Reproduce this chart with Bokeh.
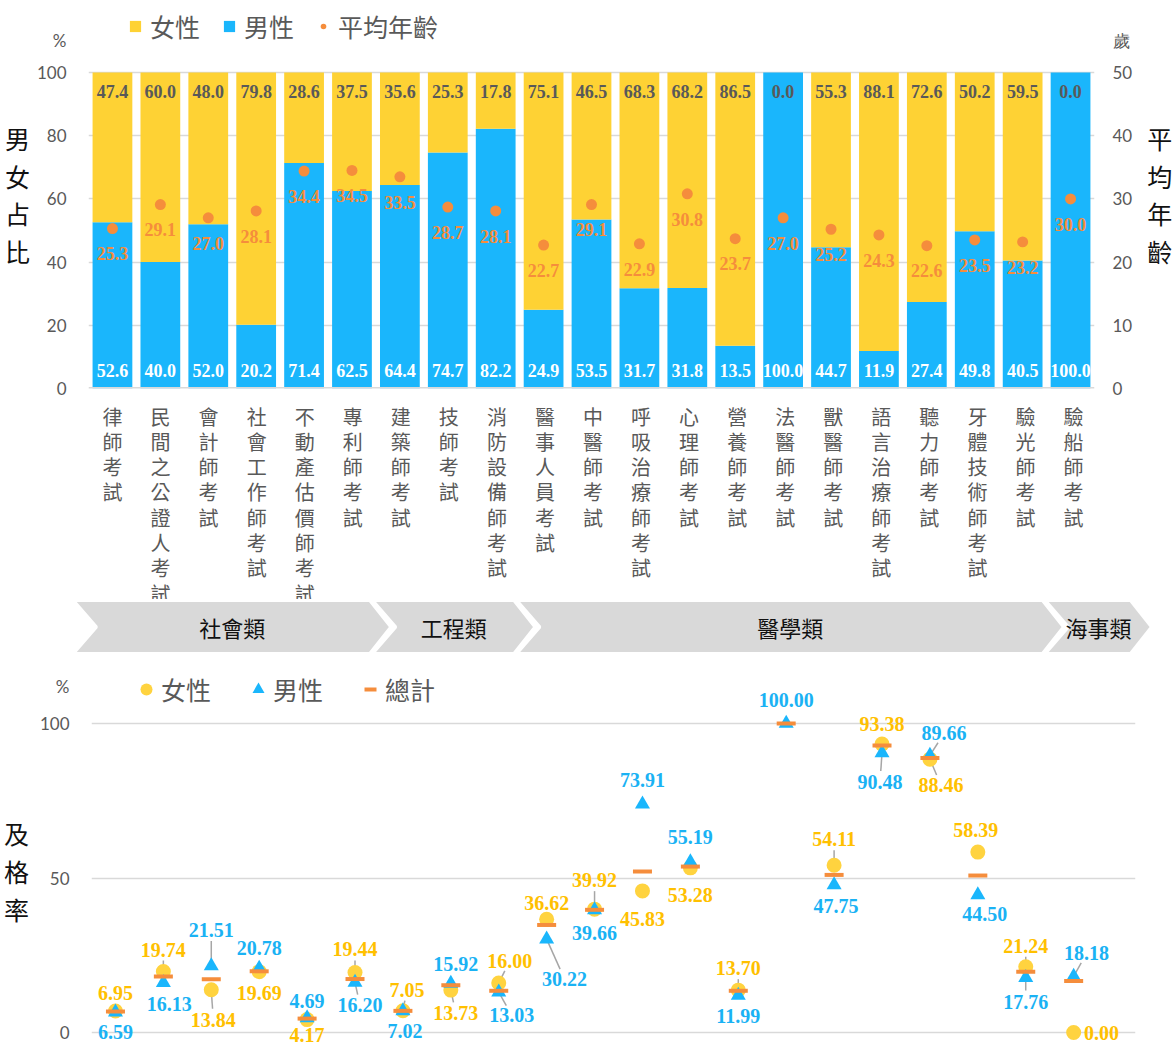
import math
from bokeh.plotting import figure
from bokeh.models import (Range1d, LinearAxis, Legend, LegendItem, Span,
                          FixedTicker, ColumnDataSource)
from bokeh.embed import file_html
from bokeh.resources import INLINE
from bokeh.core.properties import value

# ---------------- data ----------------
categories = ["律師考試", "民間之公證人考試", "會計師考試", "社會工作師考試", "不動產估價師考試",
              "專利師考試", "建築師考試", "技師考試", "消防設備師考試", "醫事人員考試",
              "中醫師考試", "呼吸治療師考試", "心理師考試", "營養師考試", "法醫師考試",
              "獸醫師考試", "語言治療師考試", "聽力師考試", "牙體技術師考試", "驗光師考試",
              "驗船師考試"]
group_names = ["社會類", "工程類", "醫學類", "海事類"]
group_sizes = [6, 3, 11, 1]
female_share = [47.4, 60.0, 48.0, 79.8, 28.6, 37.5, 35.6, 25.3, 17.8, 75.1, 46.5,
                68.3, 68.2, 86.5, 0.0, 55.3, 88.1, 72.6, 50.2, 59.5, 0.0]
male_share = [52.6, 40.0, 52.0, 20.2, 71.4, 62.5, 64.4, 74.7, 82.2, 24.9, 53.5,
              31.7, 31.8, 13.5, 100.0, 44.7, 11.9, 27.4, 49.8, 40.5, 100.0]
avg_age = [25.3, 29.1, 27.0, 28.1, 34.4, 34.5, 33.5, 28.7, 28.1, 22.7, 29.1,
           22.9, 30.8, 23.7, 27.0, 25.2, 24.3, 22.6, 23.5, 23.2, 30.0]
female_pass = [6.95, 19.74, 13.84, 19.69, 4.17, 19.44, 7.05, 13.73, 16.00, 36.62, 39.92,
               45.83, 53.28, 13.70, None, 54.11, 93.38, 88.46, 58.39, 21.24, 0.00]
male_pass = [6.59, 16.13, 21.51, 20.78, 4.69, 16.20, 7.02, 15.92, 13.03, 30.22, 39.66,
             73.91, 55.19, 11.99, 100.00, 47.75, 90.48, 89.66, 44.50, 17.76, 18.18]
total_pass = [6.8, 18.1, 17.2, 19.8, 4.5, 17.3, 7.0, 15.3, 13.5, 34.8, 39.7,
              52.1, 53.7, 13.5, 100.0, 51.0, 92.9, 88.8, 50.8, 19.7, 16.7]
share_ticks = [0, 20, 40, 60, 80, 100]
age_ticks = [0, 10, 20, 30, 40, 50]
pass_ticks = [0, 50, 100]

# label placement (screen px: dy up-positive, dx right-positive) and leader flags
female_lab_dy = [18, 22, -30, -21, -15, 23, 21, -23, 22, 16, 29, -28, -27, 22, 0, 26, 20, -26, 22, 21, 0]
female_lab_dx = [0, 0, 2, 0, 0, 0, 4, 5, 11, 0, 0, 0, 0, 0, 0, 0, 0, 11, -2, 0, 28]
female_leader = [0, 1, 1, 0, 0, 1, 1, 1, 1, 0, 1, 0, 0, 1, 0, 1, 0, 1, 0, 1, 0]
male_lab_dy = [-20, -21, 36, 20, 17, -23, -20, 19, -23, -40, -23, 24, 25, -21, 24, -21, -29, 22, -19, -24, 23]
male_lab_dx = [0, 6, 0, 0, 0, 5, 2, 5, 13, 18, 0, 0, 0, 0, 0, 2, -2, 14, 7, 0, 13]
male_leader = [0, 0, 1, 0, 0, 1, 0, 0, 1, 1, 0, 0, 0, 0, 0, 0, 1, 1, 0, 1, 1]

# ---------------- style ----------------
W = 1175
FL, FR = 88, 78
N = len(categories)
xs = list(range(1, N + 1))
CW = (W - FL - FR) / N
AXF = "Lato"
CJK = "Noto Sans CJK TC"
NUM = "Liberation Serif"
GRAY = "#595959"
YEL = "#FED234"
BLU = "#1AB6FC"
ORG = "#F58D3C"
F_DOT = "#FFD33F"
F_TXT = "#FFC000"
M_TXT = "#1AB2F4"
GRID = "#D9D9D9"


def style_axis(ax, standoff, title=None, title_standoff=10):
    ax.axis_line_color = None
    ax.major_tick_line_color = None
    ax.minor_tick_line_color = None
    ax.major_label_text_color = GRAY
    ax.major_label_text_font = AXF
    ax.major_label_text_font_size = "17px"
    ax.major_label_standoff = standoff
    if title is not None:
        ax.axis_label = title
        ax.axis_label_orientation = "horizontal"
        ax.axis_label_text_font = CJK
        ax.axis_label_text_font_style = "normal"
        ax.axis_label_text_font_size = "25px"
        ax.axis_label_text_color = "#111111"
        ax.axis_label_text_line_height = 1.05
        ax.axis_label_standoff = title_standoff


# ---------------- top chart ----------------
TOP_H, TOP_FB = 400, 12
top_ppu = 316 / 100.0
share_end = (TOP_H - TOP_FB) / top_ppu
unit_mark = 110          # tick slot that carries the "%" unit
age_mark = 55            # tick slot that carries the "歲" unit

p1 = figure(width=W, height=TOP_H, x_range=Range1d(0.5, N + 0.5),
            y_range=Range1d(0, share_end),
            output_backend="svg", toolbar_location=None, x_axis_location=None,
            min_border_left=FL, min_border_right=FR, min_border_top=0,
            min_border_bottom=TOP_FB)
p1.outline_line_color = None
p1.xgrid.visible = False
p1.ygrid.ticker = FixedTicker(ticks=share_ticks)
p1.ygrid.grid_line_color = GRID
p1.ygrid.grid_line_width = 1.5
p1.yaxis.ticker = FixedTicker(ticks=share_ticks + [unit_mark])
p1.yaxis.major_label_overrides = {unit_mark: "%"}
style_axis(p1.yaxis[0], 16, "\n".join("男女占比"), 4)
p1.extra_y_ranges = {"age": Range1d(0, share_end / 2)}
ax_r = LinearAxis(y_range_name="age", ticker=FixedTicker(ticks=age_ticks + [age_mark]))
ax_r.major_label_overrides = {age_mark: "歲"}
style_axis(ax_r, 12, "\n".join("平均年齡"), 12)
p1.add_layout(ax_r, "right")

src1 = ColumnDataSource(dict(
    x=xs, male=male_share, fem=female_share,
    ftop=[m + f for m, f in zip(male_share, female_share)],
    age=avg_age,
    flab=[f"{v:.1f}" for v in female_share],
    mlab=[f"{v:.1f}" for v in male_share],
    alab=[f"{v:.1f}" for v in avg_age],
    aly=[a - 4.0 for a in avg_age],
))
r_m = p1.vbar(x="x", bottom=0, top="male", width=0.83, fill_color=BLU, line_color=None, source=src1)
r_f = p1.vbar(x="x", bottom="male", top="ftop", width=0.83, fill_color=YEL, line_color=None, source=src1)
p1.add_layout(Span(location=0, dimension="width", line_color=GRID, line_width=3))
r_a = p1.scatter(x="x", y="age", y_range_name="age", size=11, fill_color=ORG, line_color=None, source=src1)

common_num = dict(text_font=value(NUM), text_font_style="bold", text_font_size="18px",
                  text_align="center", text_baseline="middle")
p1.text(x="x", y=94, text="flab", text_color=GRAY, source=src1, **common_num)
p1.text(x="x", y=5.6, text="mlab", text_color="white", source=src1, **common_num)
p1.text(x="x", y="aly", text="alab", text_color=ORG, y_range_name="age", source=src1, **common_num)

leg1 = Legend(items=[LegendItem(label="女性", renderers=[r_f]),
                     LegendItem(label="男性", renderers=[r_m]),
                     LegendItem(label="平均年齡", renderers=[r_a])],
              orientation="horizontal", location=(40, 344), glyph_width=14, glyph_height=14,
              label_standoff=8, spacing=22, padding=0, margin=0, border_line_color=None,
              background_fill_alpha=0, label_text_font=CJK, label_text_font_size="25px",
              label_text_color=GRAY)
p1.add_layout(leg1)

# ---------------- middle: category names + group banner ----------------
MID_H = 260
p2 = figure(width=W, height=MID_H, x_range=Range1d(0.5 - FL / CW, N + 0.5 + FR / CW),
            y_range=Range1d(MID_H, 0), output_backend="svg", toolbar_location=None,
            x_axis_location=None, y_axis_location=None, min_border=0,
            min_border_left=0, min_border_right=0, min_border_top=0, min_border_bottom=0)
p2.outline_line_color = None
p2.grid.visible = False
p2.text(x=xs, y=[1] * N, text=["\n".join(c) for c in categories], text_align="center",
        text_baseline="top", text_font=value(CJK), text_font_size="20px",
        text_line_height=0.872, text_color=GRAY)

chev_xs, chev_ys, chev_cx = [], [], []
top_y, bot_y = 200, 253
mid_y = (top_y + bot_y) / 2
start = 1
for gi, gs in enumerate(group_sizes):
    lb = start - 0.5
    rb = start + gs - 0.5
    left = lb - (15 if gi == 0 else 4) / CW
    tip = rb + (54 if gi == len(group_sizes) - 1 else 14) / CW
    tr = tip - 21 / CW
    notch = left + 23 / CW
    chev_xs.append([left, tr, tip, tr, left, notch])
    chev_ys.append([top_y, top_y, mid_y, bot_y, bot_y, mid_y])
    chev_cx.append((left + tip) / 2)
    start += gs
p2.patches(xs=chev_xs, ys=chev_ys, fill_color="#D9D9D9", line_color="white", line_width=3)
p2.text(x=chev_cx, y=[mid_y] * len(chev_cx), text=group_names, text_align="center",
        text_baseline="middle", text_font=value(CJK), text_font_size="22px", text_color="#111111")

# ---------------- bottom chart ----------------
BOT_H = 383
B_PPU = 3.09
ZERO_PX = 1032 - 660          # px from figure top to value 0
B_Y0 = -(BOT_H - ZERO_PX) / B_PPU
B_Y1 = ZERO_PX / B_PPU
BFR = 40
pass_unit_mark = 112

p3 = figure(width=W, height=BOT_H, x_range=Range1d(0.5, N + 0.5 + (FR - BFR) / CW),
            y_range=Range1d(B_Y0, B_Y1),
            output_backend="svg", toolbar_location=None, x_axis_location=None,
            min_border_left=FL, min_border_right=BFR, min_border_top=0, min_border_bottom=0)
p3.outline_line_color = None
p3.xgrid.visible = False
p3.ygrid.ticker = FixedTicker(ticks=pass_ticks)
p3.ygrid.grid_line_color = GRID
p3.ygrid.grid_line_width = 1.5
p3.yaxis.ticker = FixedTicker(ticks=pass_ticks + [pass_unit_mark])
p3.yaxis.major_label_overrides = {pass_unit_mark: "%"}
style_axis(p3.yaxis[0], 16, "\n".join(" 及格率"), 8)

fp = [float("nan") if v is None else v for v in female_pass]


def label_layer(vals, dys, dxs, flags):
    lx, ly, lt, sx0, sy0, sx1, sy1 = [], [], [], [], [], [], []
    for i, v in enumerate(vals):
        if v is None:
            continue
        x = xs[i]
        dx, dy = dxs[i], dys[i]
        lx.append(x + dx / CW)
        ly.append(v + dy / B_PPU)
        lt.append(f"{v:.2f}")
        if flags[i]:
            d = math.hypot(dx, dy)
            ux, uy = -dx / d, -dy / d
            sx0.append(x + (dx + ux * 11) / CW)
            sy0.append(v + (dy + uy * 11) / B_PPU)
            sx1.append(x)
            sy1.append(v)
    return (lx, ly, lt), (sx0, sy0, sx1, sy1)


(flx, fly, flt), fseg = label_layer(female_pass, female_lab_dy, female_lab_dx, female_leader)
(mlx, mly, mlt), mseg = label_layer(male_pass, male_lab_dy, male_lab_dx, male_leader)

p3.segment(x0=fseg[0] + mseg[0], y0=fseg[1] + mseg[1], x1=fseg[2] + mseg[2], y1=fseg[3] + mseg[3],
           line_color="#A6A6A6", line_width=1.5)
r_fp = p3.scatter(x=xs, y=fp, marker="circle", size=15, fill_color=F_DOT, line_color=None)
r_mp = p3.scatter(x=xs, y=male_pass, marker="triangle", size=15, fill_color=BLU, line_color=None)
r_tp = p3.scatter(x=xs, y=total_pass, marker="dash", size=19, line_color=ORG, line_width=4)

lab_kw = dict(text_font=value(NUM), text_font_style="bold", text_font_size="20px",
              text_align="center", text_baseline="middle")
p3.text(x=flx, y=fly, text=flt, text_color=F_TXT, **lab_kw)
p3.text(x=mlx, y=mly, text=mlt, text_color=M_TXT, **lab_kw)

leg3 = Legend(items=[LegendItem(label="女性", renderers=[r_fp]),
                     LegendItem(label="男性", renderers=[r_mp]),
                     LegendItem(label="總計", renderers=[r_tp])],
              orientation="horizontal", location=(40, 336), glyph_width=30, glyph_height=30,
              label_standoff=0, spacing=32, padding=0, margin=0, border_line_color=None,
              background_fill_alpha=0, label_text_font=CJK, label_text_font_size="25px",
              label_text_color=GRAY)
p3.add_layout(leg3)

open("out.html", "w").write(file_html([p1, p2, p3], INLINE))
